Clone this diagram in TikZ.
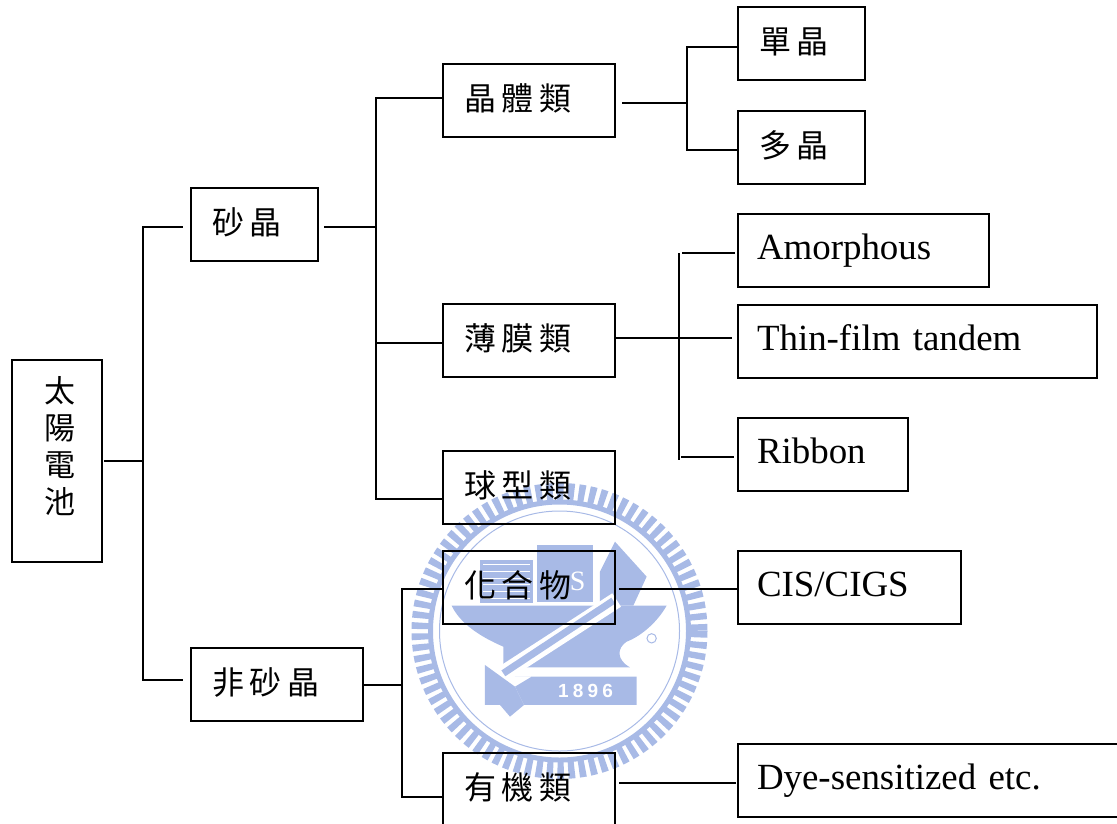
\documentclass[tikz,border=0pt]{standalone}
\usepackage{fontspec}
\setmainfont{Liberation Serif}
\newfontfamily\cjk[LetterSpace=16.5]{Noto Sans CJK TC}
\newfontfamily\cjkroot{Noto Sans CJK TC}
\newfontfamily\yearfont[LetterSpace=22]{Liberation Sans}
\usepackage{tikz}
\definecolor{wmblue}{HTML}{A8BAE6}

\begin{document}
\begin{tikzpicture}[
  x=1pt,y=-1pt,
  font=\fontsize{36.9}{44}\selectfont,
  box/.style={draw,line width=1.6pt,anchor=north west,outer sep=0pt,inner xsep=19pt,inner ysep=0pt,
    minimum height=73pt,text height=25pt,text depth=8pt,align=left,text width=#1},
  zh/.style={font=\fontsize{32}{36}\cjk,text height=28pt,inner xsep=21.5pt},
  link/.style={line width=1.6pt},
  wm/.style={fill=wmblue,draw=none}
]
\useasboundingbox (0,0) rectangle (1117,823);
\clip (0,0) rectangle (1117,823);

% watermark
\draw[wmblue,line width=18pt,dash pattern=on 6.4pt off 4.3pt] (559.5,631) circle (139);
\draw[wmblue,line width=5pt] (559.5,631) circle (129);
\draw[wmblue,line width=1pt] (559.5,631) circle (120);
\begin{scope}[shift={(400,460)},x=.3333pt,y=-.3333pt]
  \fill[wm] (240,300) rectangle (400,430);
  \foreach \y in {315,335,355,375,395,415}
    \draw[white,line width=1pt] (250,\y) -- (390,\y);
  \fill[wm] (410,255) rectangle (580,425);
  \fill[wm] (600,335) -- (645,245) -- (740,350) -- (700,437) -- (600,437) -- cycle;
  \fill[wm] (155,437) -- (800,437) .. controls (770,490) and (720,530) .. (680,545)
    .. controls (650,565) and (650,600) .. (690,622) -- (410,622) -- (310,622) -- (310,560)
    .. controls (240,530) and (180,490) .. cycle;
  \draw[white,line width=16pt] (650,420) -- (310,640);
  \draw[wmblue,line width=7pt] (640,422) -- (310,640);
  \fill[wm] (255,615) -- (345,680) -- (372,735) -- (330,770) -- (300,735) -- (255,735) -- cycle;
  \fill[wm] (345,650) -- (710,650) -- (710,735) -- (372,735) -- (345,680) -- (395,650) -- cycle;
  \node[text=white,font=\fontsize{19}{22}\bfseries\yearfont] (year) at (557,692) {1896};
  \node[text=white,font=\fontsize{28}{30}\selectfont] (emblem) at (533,365) {S};
  \draw[wmblue,line width=1pt] (755,535) circle (14);
\end{scope}

\node[draw,line width=1.6pt,anchor=north west,outer sep=0pt,inner xsep=27pt,inner ysep=0pt,text width=36pt,minimum height=202pt,
  align=right,font=\fontsize{31}{37}\cjkroot] (root) at (12,360) {太\\陽\\電\\池\\[-4pt]\mbox{}};

\node[box=84pt,zh] (si) at (191,188) {砂晶};
\node[box=129pt,zh] (nonsi) at (191,648) {非砂晶};

\node[box=129pt,zh] (bulk) at (443,64) {晶體類};
\node[box=129pt,zh] (film) at (443,304) {薄膜類};
\node[box=129pt,zh] (sphere) at (443,451) {球型類};
\node[box=129pt,zh] (comp) at (443,551) {化合物};
\node[box=129pt,zh] (organic) at (443,753) {有機類};

\node[box=84pt,zh] (mono) at (738,7) {單晶};
\node[box=84pt,zh] (poly) at (738,111) {多晶};
\node[box=213pt] (amor) at (738,214) {Amorphous};
\node[box=321pt] (tandem) at (738,305) {Thin-film tandem};
\node[box=132pt] (ribbon) at (738,418) {Ribbon};
\node[box=185pt] (cis) at (738,551) {CIS/CIGS};
\node[box=380pt] (dye) at (738,744) {Dye-sensitized etc.};

\coordinate (mainj) at (143,461);
\coordinate (sij) at (376,227);
\coordinate (nonj) at (402,685);
\coordinate (bulkj) at (687,103);
\coordinate (filmtop) at (679,253);
\coordinate (filmbot) at (679,460);

\draw[link] ([xshift=2pt]root.east) -- (mainj);
\draw[link] (mainj) |- ([xshift=-8pt,yshift=-2.5pt]si.west);
\draw[link] (mainj) |- ([xshift=-8pt,yshift=4.5pt]nonsi.west);

\draw[link] ([xshift=6pt,yshift=-2.5pt]si.east) -- (sij);
\draw[link] (sij) |- ([xshift=-1pt,yshift=2.5pt]bulk.west);
\draw[link] (sij) |- ([xshift=-1pt,yshift=-2.5pt]film.west);
\draw[link] (sij) |- ([xshift=-1pt,yshift=-11.5pt]sphere.west);

\draw[link] ([xshift=1pt,yshift=-.5pt]nonsi.east) -- (nonj);
\draw[link] (nonj) |- ([xshift=-1pt,yshift=-1.5pt]comp.west);
\draw[link] (nonj) |- ([xshift=-1pt,yshift=-7.5pt]organic.west);

\draw[link] ([xshift=7pt,yshift=-2.5pt]bulk.east) -- (bulkj);
\draw[link] (bulkj) |- ([yshift=-3.5pt]mono.west);
\draw[link] (bulkj) |- ([yshift=-2.5pt]poly.west);

\draw[link] (filmtop) -- (filmbot);
\draw[link] ([xshift=3pt]filmtop) -- ([xshift=-3pt,yshift=-2.5pt]amor.west);
\draw[link] ([yshift=2.5pt]film.east) -- ([xshift=-6pt,yshift=3.5pt]tandem.west);
\draw[link] ([xshift=2pt,yshift=3pt]filmbot) -- ([xshift=-4pt,yshift=-2.5pt]ribbon.west);

\draw[link] ([xshift=4pt,yshift=-1.5pt]comp.east) -- ([xshift=-1pt,yshift=-1.5pt]cis.west);
\draw[link] ([xshift=4pt,yshift=6.5pt]organic.east) -- ([xshift=-2pt,yshift=-2.5pt]dye.west);
\end{tikzpicture}
\end{document}
